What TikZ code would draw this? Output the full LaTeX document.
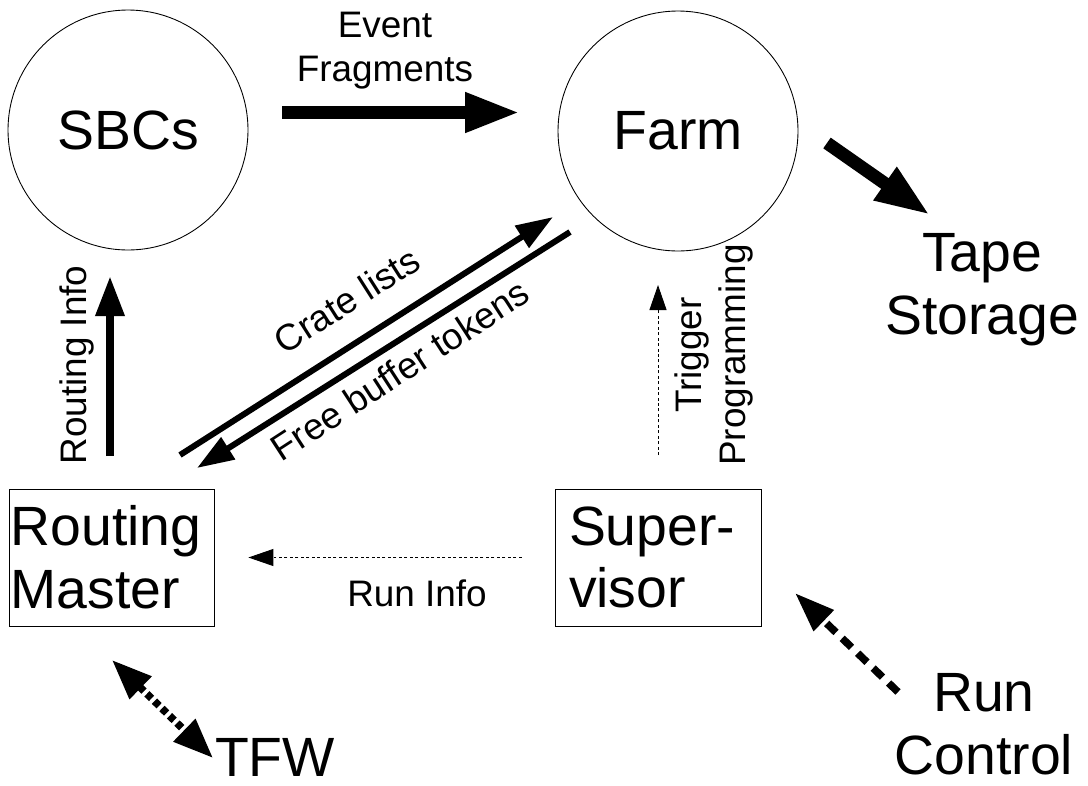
\documentclass[tikz,border=0pt]{standalone}
\usepackage{fontspec}
\setmainfont{Liberation Sans}
\usetikzlibrary{arrows.meta}
\tikzset{
  big/.style={font=\fontsize{31.5}{35.7}\selectfont},
  small/.style={font=\fontsize{21}{25}\selectfont},
  fat/.style={line width=0.26cm,-{Triangle[length=1.1cm,width=0.74cm]}},
  mid/.style={line width=0.16cm,-{Triangle[length=0.8cm,width=0.55cm]}},
  slim/.style={line width=0.12cm,-{Triangle[length=0.74cm,width=0.5cm]}},
  faint/.style={line width=0.5pt,dash pattern=on 1.7pt off 1.4pt,-{Triangle[length=0.5cm,width=0.34cm]}},
  dotline/.style={line width=0.15cm,dash pattern=on 0.13cm off 0.08cm,{Triangle[length=0.8cm,width=0.6cm]}-{Triangle[length=0.8cm,width=0.6cm]}},
  dashline/.style={line width=0.15cm,dash pattern=on 0.26cm off 0.17cm,-{Triangle[length=0.8cm,width=0.55cm]}}
}
\begin{document}
\begin{tikzpicture}[x=0.02cm,y=-0.02cm]
        \useasboundingbox (0,0) rectangle (1088,785);
        \begin{scope}[every node/.style={circle,draw,line width=0.5pt,minimum size=4.8cm,inner sep=0pt,big}]
          \node (sbc) at (128,130) {SBCs};
          \node (farm) at (678,131) {Farm};
        \end{scope}
        \begin{scope}[every node/.style={rectangle,draw,line width=0.5pt,minimum height=2.74cm,align=left,big}]
          \node[inner xsep=0.03cm,text width=4.04cm] (rm) at (111.5,557.5) {Routing\\Master};
          \node[inner xsep=0.28cm,text width=3.56cm] (sup) at (658,557.5) {Super-\\visor};
        \end{scope}
        \begin{scope}[every node/.style={small,align=center,inner sep=0pt}]
          \node (ef) at (385,51) {Event\\Fragments};
          \node[rotate=90] (ri) at (77,365) {Routing Info};
          \node[rotate=32.5] (cl) at (347,300) {Crate lists};
          \node[rotate=33] (fb) at (400,370) {Free buffer tokens};
          \node[rotate=90] (tp) at (714,355) {Trigger\\Programming};
          \node (rinfo) at (417,593) {Run Info};
        \end{scope}
        \begin{scope}[every node/.style={big,align=center,inner sep=0pt}]
          \node (tape) at (982,290) {Tape\\Storage};
          \node (tfw) at (275,757) {TFW};
          \node (rc) at (984,724) {Run\\Control};
        \end{scope}
        \coordinate (ef1) at (282,112.5);
        \coordinate (ef2) at (520,112.5);
        \coordinate (ts1) at (827,143);
        \coordinate (ts2) at (930,215);
        \coordinate (ri1) at (110,456);
        \coordinate (ri2) at (110,276);
        \coordinate (cl1) at (180,455);
        \coordinate (cl2) at (553,217);
        \coordinate (fb1) at (570,232);
        \coordinate (fb2) at (197,468);
        \coordinate (tp1) at (658,455);
        \coordinate (tp2) at (658,285);
        \coordinate (tf1) at (112,660);
        \coordinate (tf2) at (213,758);
        \coordinate (rc1) at (898,692);
        \coordinate (rc2) at (795,593);
        \begin{scope}[every edge/.style={draw=black}]
          \path (ef1) edge [fat] (ef2);
          \path (ts1) edge [fat] (ts2);
          \path (ri1) edge [mid] (ri2);
          \path (cl1) edge [slim] (cl2);
          \path (fb1) edge [slim] (fb2);
          \path (tp1) edge [faint] (tp2);
          \path (sup) edge [faint,shorten <=0.66cm,shorten >=0.68cm] (rm);
          \path (tf1) edge [dotline] (tf2);
          \path (rc1) edge [dashline] (rc2);
        \end{scope}
\end{tikzpicture}
\end{document}
